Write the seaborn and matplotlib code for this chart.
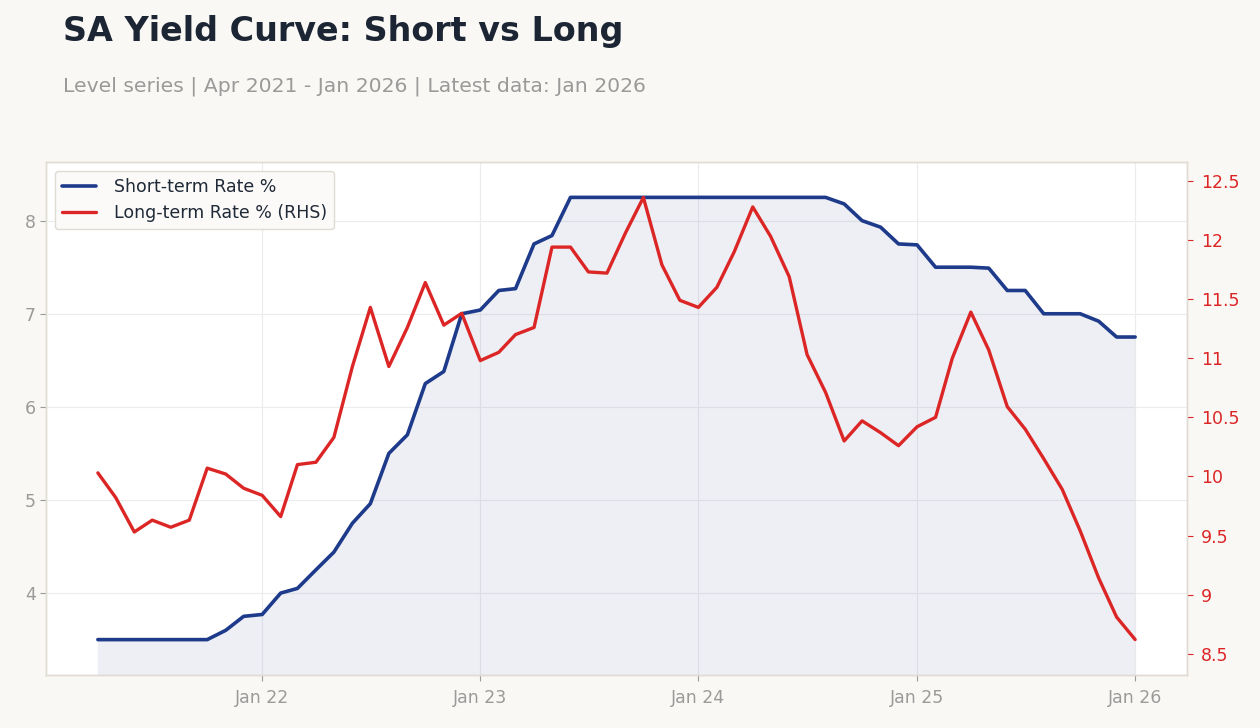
import matplotlib
matplotlib.use("Agg")
import matplotlib.pyplot as plt
import matplotlib.dates as mdates
import pandas as pd
import seaborn as sns

# monthly data, Apr 2021 - Jan 2026
DATES = pd.date_range("2021-04-01", periods=58, freq="MS")
SHORT = [3.50, 3.50, 3.50, 3.50, 3.50, 3.50, 3.50, 3.60, 3.75,
         3.77, 4.00, 4.05, 4.25, 4.44, 4.75, 4.96, 5.50, 5.70, 6.25, 6.38, 7.00,
         7.04, 7.25, 7.27, 7.75, 7.84, 8.25, 8.25, 8.25, 8.25, 8.25, 8.25, 8.25,
         8.25, 8.25, 8.25, 8.25, 8.25, 8.25, 8.25, 8.25, 8.18, 8.00, 7.93, 7.75,
         7.74, 7.50, 7.50, 7.50, 7.49, 7.25, 7.25, 7.00, 7.00, 7.00, 6.92, 6.75,
         6.75]
LONG = [10.03, 9.82, 9.53, 9.63, 9.57, 9.63, 10.07, 10.02, 9.90,
        9.84, 9.66, 10.10, 10.12, 10.33, 10.93, 11.43, 10.93, 11.26, 11.64, 11.28, 11.38,
        10.98, 11.05, 11.20, 11.26, 11.94, 11.94, 11.73, 11.72, 12.06, 12.36, 11.79,
        11.49, 11.43, 11.60, 11.90, 12.28, 12.03, 11.69, 11.03, 10.71, 10.30, 10.47,
        10.37, 10.26, 10.42, 10.50, 11.00, 11.39, 11.07, 10.59, 10.40, 10.15, 9.89,
        9.54, 9.14, 8.81, 8.62]
LEFT_TICKS = [4, 5, 6, 7, 8]
RIGHT_TICKS = [8.5, 9, 9.5, 10, 10.5, 11, 11.5, 12, 12.5]
RIGHT_LABELS = ["8.5", "9", "9.5", "10", "10.5", "11", "11.5", "12", "12.5"]

NAVY = "#1e3a8a"
RED = "#dc2626"
BG = "#f9f8f5"
GREY = "#9a9a9a"

sns.set_theme(style="whitegrid")
plt.rcParams["font.family"] = ["DejaVu Sans"]

fig = plt.figure(figsize=(12.6, 7.28), dpi=100, facecolor=BG)
ax = fig.add_axes([46 / 1260, 1 - 675 / 728, (1187 - 46) / 1260, (675 - 162) / 728])
ax.set_facecolor("white")

df = pd.DataFrame({"date": DATES, "short": SHORT, "long": LONG})

sns.lineplot(data=df, x="date", y="short", ax=ax, color=NAVY, lw=2.6,
             label="Short-term Rate %", legend=False)
ax.fill_between(df["date"], df["short"], 0, color=NAVY, alpha=0.08, lw=0)
ax.set_ylim(3.12, 8.63)

ax2 = ax.twinx()
sns.lineplot(data=df, x="date", y="long", ax=ax2, color=RED, lw=2.4,
             label="Long-term Rate % (RHS)", legend=False)
ax2.set_ylim(8.32, 12.66)
ax2.grid(False)

ax.set_yticks(LEFT_TICKS)
ax2.set_yticks(RIGHT_TICKS)
ax2.set_yticklabels(RIGHT_LABELS)

ax.xaxis.set_major_locator(mdates.YearLocator())
ax.xaxis.set_major_formatter(mdates.DateFormatter("Jan %y"))
ax.set_xlabel("")
ax.set_ylabel("")
ax2.set_ylabel("")

ax.grid(True, color="#ececec", lw=0.8)
ax.tick_params(axis="both", colors=GREY, labelsize=12.5, length=4, width=0.8,
               direction="out", left=True, bottom=True)
ax.tick_params(axis="x", pad=6)
ax2.tick_params(axis="y", colors=RED, labelcolor=RED, labelsize=12.5, length=4,
                width=0.8, right=True, pad=6)

for a in (ax, ax2):
    for s in a.spines.values():
        s.set_color("#e0dcd4")
        s.set_linewidth(1)

h1, l1 = ax.get_legend_handles_labels()
h2, l2 = ax2.get_legend_handles_labels()
leg = ax.legend(h1 + h2, l1 + l2, loc="upper left", fontsize=12.5, frameon=True,
                facecolor="#fbfaf8", edgecolor="#e0dcd4", framealpha=1,
                borderaxespad=0.5, handlelength=2.0, handletextpad=1.0)
for t in leg.get_texts():
    t.set_color("#1f2937")

fig.text(63 / 1260, 1 - 31 / 728, "SA Yield Curve: Short vs Long", fontsize=24,
         fontweight="bold", color="#1c2533", va="center", ha="left")
fig.text(63 / 1260, 1 - 86 / 728,
         "Level series | Apr 2021 - Jan 2026 | Latest data: Jan 2026",
         fontsize=14.7, color=GREY, va="center", ha="left")

fig.savefig("out.png", dpi=100, facecolor=BG)
